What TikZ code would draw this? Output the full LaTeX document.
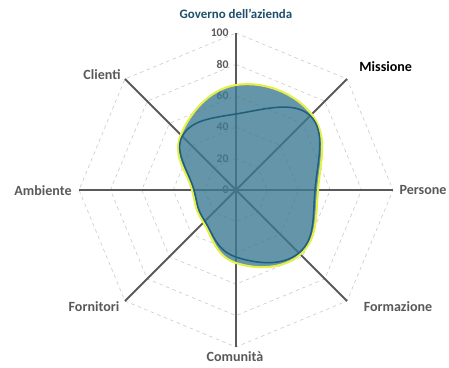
\documentclass[tikz,border=0pt]{standalone}
\usepackage{fontspec}
\setmainfont{Carlito}
\usepackage{tikz}
\usetikzlibrary{positioning, calc}

\definecolor{axisgray}{HTML}{595959}
\definecolor{gridgray}{HTML}{C8C8C8}
\definecolor{areablue}{HTML}{3E7A93}
\definecolor{lineblue}{HTML}{1F5F7A}
\definecolor{rimyellow}{HTML}{E6EE4A}
\definecolor{titleblue}{HTML}{1D4E6B}

\begin{document}
\begin{tikzpicture}[x=0.03cm, y=0.03cm,
    axis/.style={draw=axisgray, line width=1.6pt},
    ring/.style={draw=gridgray, dashed, line width=0.5pt},
    tick/.style={text=axisgray, font=\bfseries\fontsize{10}{12}\selectfont, anchor=east, inner sep=1pt},
    axlabel/.style={text=axisgray, font=\bfseries\fontsize{12}{14}\selectfont, inner sep=1pt}]
        \useasboundingbox (-236,-178) rectangle (213,190);

        % Grid rings
        \foreach \r in {31.4, 62.8, 94.2, 125.6, 157} {
            \draw[ring] (90:\r) -- (45:\r) -- (0:\r) -- (-45:\r) -- (-90:\r)
                -- (-135:\r) -- (180:\r) -- (135:\r) -- cycle;
        }

        % Axes
        \coordinate (o) at (0,0);
        \foreach \name/\ang in {gov/90, mis/45, per/0, frm/-45, com/-90, frn/-135, amb/180, cli/135} {
            \coordinate (\name) at (\ang:157);
            \draw[axis] (o) -- (\name);
        }

        % Tick labels
        \foreach \v [count=\i from 0] in {0, 20, 40, 60, 80, 100} {
            \node[tick] (t\i) at (-6, 31.4*\i) {\v};
        }

        % Series area (yellow rim)
        \fill[areablue, fill opacity=0.8] plot[smooth cycle, tension=0.75] coordinates
            {(90:105) (45:107) (0:82) (-45:91) (-90:73) (-135:46) (180:44) (135:78)};
        \draw[rimyellow, line width=1.8pt] plot[smooth cycle, tension=0.75] coordinates
            {(90:105) (45:107) (0:82) (-45:91) (-90:73) (-135:46) (180:44) (135:78)};

        % Series line (dark)
        \draw[lineblue, line width=1.3pt] plot[smooth cycle, tension=0.75] coordinates
            {(90:76) (45:105) (0:79) (-45:89) (-90:67) (-135:44) (180:42) (135:76)};

        % Axis labels
        \node[text=titleblue, font=\bfseries\fontsize{11}{13}\selectfont] (lgov) at (0,176) {Governo dell’azienda};
        \node[font=\bfseries\fontsize{12}{14}\selectfont, anchor=west, inner sep=1pt] (lmis) at (122,123) {Missione};
        \node[axlabel] (lcli) at (-134,115) {Clienti};
        \node[axlabel] (lamb) at (-193,-1) {Ambiente};
        \node[axlabel] (lper) at (187,0) {Persone};
        \node[axlabel] (lfrn) at (-142,-117) {Fornitori};
        \node[axlabel] (lfrm) at (162,-117) {Formazione};
        \node[axlabel] (lcom) at (-1,-167) {Comunità};

    \end{tikzpicture}
\end{document}
